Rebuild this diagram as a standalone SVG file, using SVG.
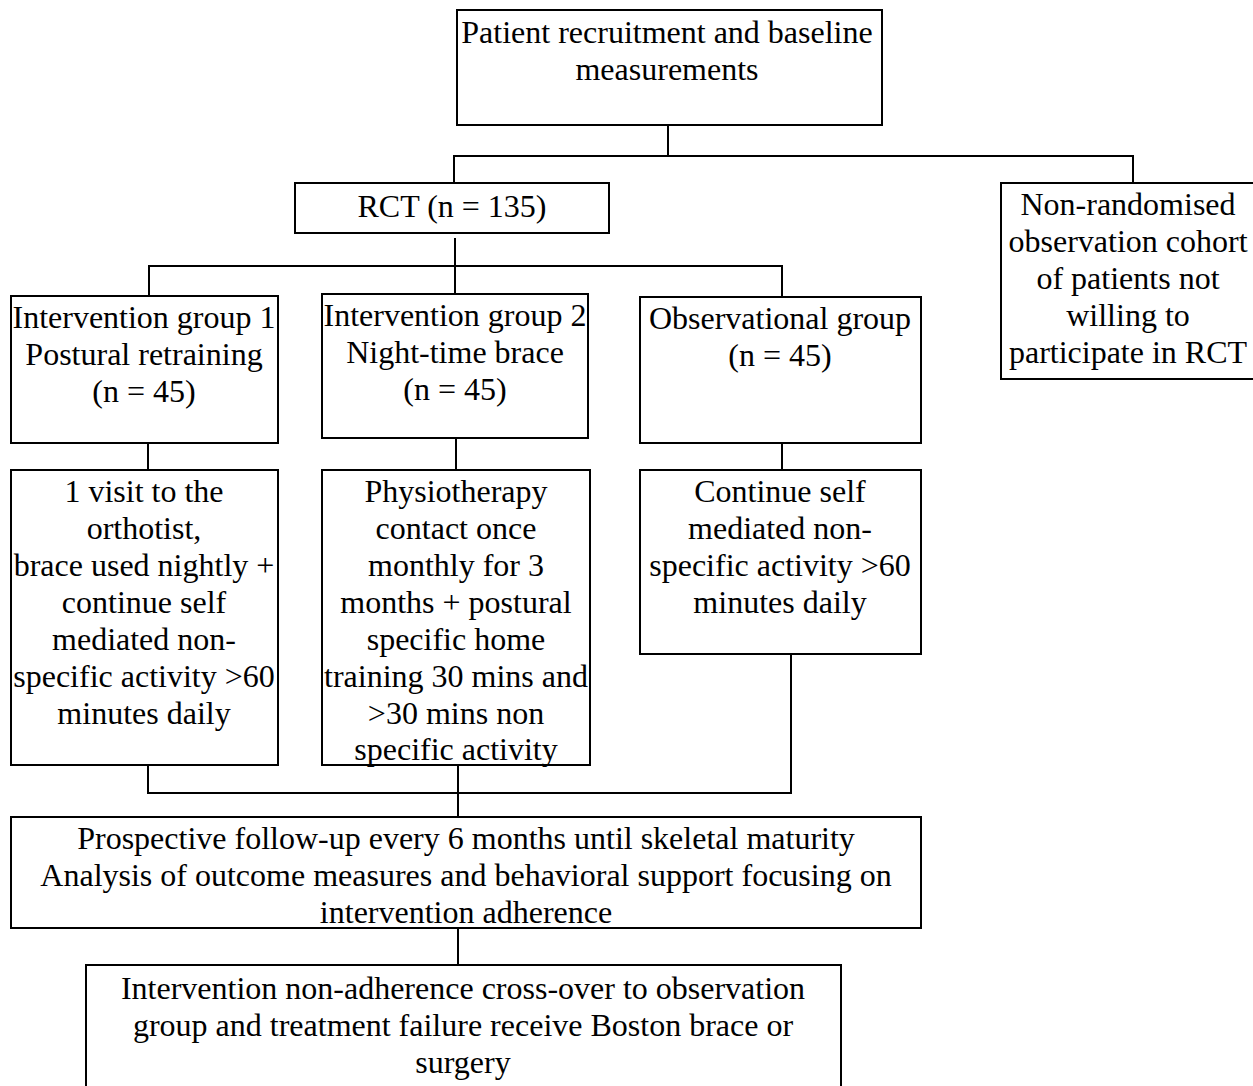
<svg xmlns="http://www.w3.org/2000/svg" width="1253" height="1086" viewBox="0 0 1253 1086">
<style>
.box{fill:#fff;stroke:#000;stroke-width:2}
.t{font-family:"Liberation Serif","Times New Roman",serif;font-size:32px;fill:#000;text-anchor:middle}
.c line{stroke:#000;stroke-width:2}
</style>
<rect width="1253" height="1086" fill="#fff"/>
<g class="c" id="connectors">
<line x1="668" y1="125" x2="668" y2="156"/>
<line x1="453" y1="156" x2="1134" y2="156"/>
<line x1="454" y1="156" x2="454" y2="183"/>
<line x1="1133" y1="156" x2="1133" y2="183"/>
<line x1="455" y1="238" x2="455" y2="266"/>
<line x1="148" y1="266" x2="783" y2="266"/>
<line x1="149" y1="266" x2="149" y2="296"/>
<line x1="455" y1="266" x2="455" y2="294"/>
<line x1="782" y1="266" x2="782" y2="297"/>
<line x1="148" y1="443" x2="148" y2="470"/>
<line x1="456" y1="438" x2="456" y2="470"/>
<line x1="782" y1="443" x2="782" y2="470"/>
<line x1="148" y1="765" x2="148" y2="794"/>
<line x1="458" y1="765" x2="458" y2="817"/>
<line x1="791" y1="654" x2="791" y2="794"/>
<line x1="147" y1="793" x2="792" y2="793"/>
<line x1="458" y1="928" x2="458" y2="965"/>
</g>
<g id="n-top">
<rect class="box" x="457" y="10" width="425" height="115"/>
<text class="t" x="667" y="43">Patient recruitment and baseline</text>
<text class="t" x="667" y="80">measurements</text>
</g>
<g id="n-rct">
<rect class="box" x="295" y="183" width="314" height="50"/>
<text class="t" x="452" y="217">RCT (n = 135)</text>
</g>
<g id="n-nonrand">
<rect class="box" x="1001" y="183" width="256" height="196"/>
<text class="t" x="1128" y="215">Non-randomised</text>
<text class="t" x="1128" y="252">observation cohort</text>
<text class="t" x="1128" y="289">of patients not</text>
<text class="t" x="1128" y="326">willing to</text>
<text class="t" x="1128" y="363">participate in RCT</text>
</g>
<g id="n-ig1">
<rect class="box" x="11" y="296" width="267" height="147"/>
<text class="t" x="144" y="328">Intervention group 1</text>
<text class="t" x="144" y="365">Postural retraining</text>
<text class="t" x="144" y="402">(n = 45)</text>
</g>
<g id="n-ig2">
<rect class="box" x="322" y="294" width="266" height="144"/>
<text class="t" x="455" y="326">Intervention group 2</text>
<text class="t" x="455" y="363">Night-time brace</text>
<text class="t" x="455" y="400">(n = 45)</text>
</g>
<g id="n-obs">
<rect class="box" x="640" y="297" width="281" height="146"/>
<text class="t" x="780" y="329">Observational group</text>
<text class="t" x="780" y="366">(n = 45)</text>
</g>
<g id="n-visit">
<rect class="box" x="11" y="470" width="267" height="295"/>
<text class="t" x="144" y="502">1 visit to the</text>
<text class="t" x="144" y="539">orthotist,</text>
<text class="t" x="144" y="576">brace used nightly +</text>
<text class="t" x="144" y="613">continue self</text>
<text class="t" x="144" y="650">mediated non-</text>
<text class="t" x="144" y="687">specific activity &gt;60</text>
<text class="t" x="144" y="724">minutes daily</text>
</g>
<g id="n-physio">
<rect class="box" x="322" y="470" width="268" height="295"/>
<text class="t" x="456" y="502">Physiotherapy</text>
<text class="t" x="456" y="539">contact once</text>
<text class="t" x="456" y="576">monthly for 3</text>
<text class="t" x="456" y="613">months + postural</text>
<text class="t" x="456" y="650">specific home</text>
<text class="t" x="456" y="687">training 30 mins and</text>
<text class="t" x="456" y="724">&gt;30 mins non</text>
<text class="t" x="456" y="760">specific activity</text>
</g>
<g id="n-continue">
<rect class="box" x="640" y="470" width="281" height="184"/>
<text class="t" x="780" y="502">Continue self</text>
<text class="t" x="780" y="539">mediated non-</text>
<text class="t" x="780" y="576">specific activity &gt;60</text>
<text class="t" x="780" y="613">minutes daily</text>
</g>
<g id="n-followup">
<rect class="box" x="11" y="817" width="910" height="111"/>
<text class="t" x="466" y="849">Prospective follow-up every 6 months until skeletal maturity</text>
<text class="t" x="466" y="886">Analysis of outcome measures and behavioral support focusing on</text>
<text class="t" x="466" y="923">intervention adherence</text>
</g>
<g id="n-crossover">
<rect class="box" x="86" y="965" width="755" height="125"/>
<text class="t" x="463" y="999">Intervention non-adherence cross-over to observation</text>
<text class="t" x="463" y="1036">group and treatment failure receive Boston brace or</text>
<text class="t" x="463" y="1073">surgery</text>
</g>
</svg>
